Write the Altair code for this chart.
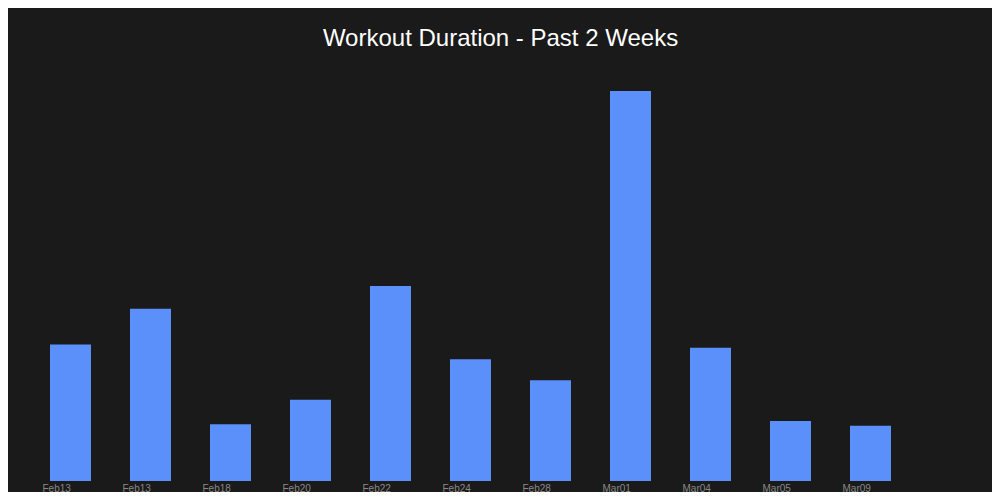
import altair as alt
import pandas as pd

labels = ["Feb13", "Feb13", "Feb18", "Feb20", "Feb22", "Feb24", "Feb28", "Mar01", "Mar04", "Mar05", "Mar09"]
minutes = [42, 53, 17.5, 25, 60, 37.5, 31, 120, 41, 18.5, 17]

df = pd.DataFrame({"idx": [str(i) for i in range(len(labels))], "label": labels, "minutes": minutes})

label_expr = "[" + ",".join(f"'{l}'" for l in labels) + "][toNumber(datum.value)]"

chart = alt.Chart(df).mark_bar(color="#5b8ff9").encode(
    x=alt.X("idx:N", sort=None, title=None,
            scale=alt.Scale(paddingInner=0.4875, paddingOuter=0.24375),
            axis=alt.Axis(labelExpr=label_expr, labelAngle=0, labelAlign="left",
                          labelOffset=-28, labelPadding=2, ticks=False, domain=False,
                          grid=False, labelColor="#888888", labelFontSize=10,
                          labelFont="Liberation Sans")),
    y=alt.Y("minutes:Q", title=None, scale=alt.Scale(domain=[0, 120], nice=False), axis=None),
).properties(
    width=880, height=390,
    autosize=alt.AutoSizeParams(type="none"),
    padding={"left": 22.5, "top": 83, "right": 81.5, "bottom": 11},
    background="#1a1a1a",
    title=alt.TitleParams("Workout Duration - Past 2 Weeks", anchor="middle", dx=30,
                          offset=21, baseline="alphabetic", fontSize=24,
                          font="Liberation Sans", fontWeight="normal", color="#ffffff"),
).configure_view(stroke=None)

chart.save("out.html", embed_options={"renderer": "svg", "actions": False})
